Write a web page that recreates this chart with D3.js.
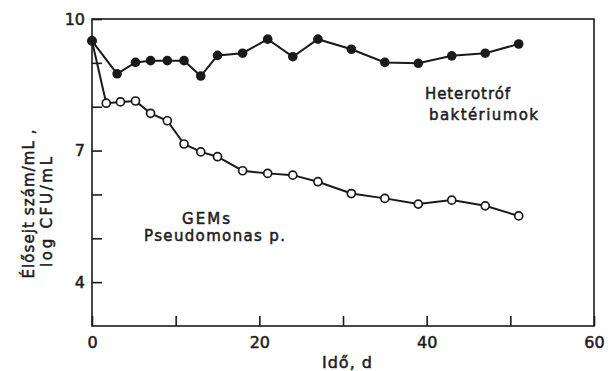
<!DOCTYPE html>
<html>
<head>
<meta charset="utf-8">
<script src="https://cdn.jsdelivr.net/npm/d3@7"></script>
<style>
  body { margin: 0; background: #fff; }
  text { font-family: "DejaVu Sans", sans-serif; fill: #1c1c1c; stroke: #1c1c1c; stroke-width: 0.5px; }
</style>
</head>
<body>
<svg id="chart" width="611" height="371"></svg>
<script>
// Heterotrophic bacteria (filled markers)
const heteroDays = [0, 3, 5.2, 7, 9, 11, 13, 15, 18, 21, 24, 27, 31, 35, 39, 43, 47, 51];
const heteroLog  = [9.50, 8.75, 9.01, 9.05, 9.05, 9.05, 8.70, 9.17, 9.22, 9.54, 9.14, 9.54, 9.31, 9.01, 8.99, 9.16, 9.22, 9.43];

// GEM Pseudomonas (open markers)
const gemDays = [0, 1.7, 3.4, 5.2, 7, 9, 11, 13, 15, 18, 21, 24, 27, 31, 35, 39, 43, 47, 51];
const gemLog  = [9.50, 8.08, 8.11, 8.13, 7.85, 7.68, 7.15, 6.97, 6.86, 6.54, 6.48, 6.44, 6.29, 6.02, 5.91, 5.78, 5.87, 5.74, 5.51];

const xTickValues = [0, 10, 20, 30, 40, 50, 60];
const xTickLabels = ["0", "", "20", "", "40", "", "60"];
const yTickValues = [4, 5, 6, 7, 8, 9, 10];
const yTickLabels = ["4", "", "", "7", "", "", "10"];

const heteroLabel = ["Heterotróf", "baktériumok"];
const gemLabel = ["GEMs", "Pseudomonas p."];
const yTitle = ["Élősejt szám/mL ,", "log CFU/mL"];
const xTitle = "Idő, d";

const ink = "#1a1a1a";
const svg = d3.select("#chart");

const x = d3.scaleLinear().domain([0, 60]).range([92, 594]);
const y = d3.scaleLinear().domain([3, 10]).range([326, 19]);

// axes with inward ticks
const xAxis = d3.axisBottom(x)
  .tickValues(xTickValues)
  .tickFormat((d, i) => xTickLabels[i])
  .tickSizeInner(-10).tickSizeOuter(0).tickPadding(11);
const yAxis = d3.axisLeft(y)
  .tickValues(yTickValues)
  .tickFormat((d, i) => yTickLabels[i])
  .tickSizeInner(-10).tickSizeOuter(0).tickPadding(7);

const gx = svg.append("g").attr("transform", `translate(0,${y(3)})`).call(xAxis);
const gy = svg.append("g").attr("transform", `translate(${x(0)},0)`).call(yAxis);
[gx, gy].forEach(g => {
  g.select(".domain").remove();
  g.selectAll(".tick line").attr("stroke", ink).attr("stroke-width", 1.6);
  g.selectAll(".tick text").attr("font-size", 16).attr("fill", ink)
    .style("font-family", '"DejaVu Sans", sans-serif');
});

// frame
svg.append("rect")
  .attr("x", x(0)).attr("y", y(10))
  .attr("width", x(60) - x(0)).attr("height", y(3) - y(10))
  .attr("fill", "none").attr("stroke", ink).attr("stroke-width", 1.6);

const line = d3.line().x(d => x(d[0])).y(d => y(d[1]));
const gemPts = gemDays.map((d, i) => [d, gemLog[i]]);
const heteroPts = heteroDays.map((d, i) => [d, heteroLog[i]]);

svg.append("path").datum(gemPts).attr("d", line)
  .attr("fill", "none").attr("stroke", ink).attr("stroke-width", 2);
svg.append("path").datum(heteroPts).attr("d", line)
  .attr("fill", "none").attr("stroke", ink).attr("stroke-width", 2);

svg.append("g").selectAll("circle").data(gemPts).join("circle")
  .attr("cx", d => x(d[0])).attr("cy", d => y(d[1])).attr("r", 4)
  .attr("fill", "#fff").attr("stroke", ink).attr("stroke-width", 1.7);
svg.append("g").selectAll("circle").data(heteroPts).join("circle")
  .attr("cx", d => x(d[0])).attr("cy", d => y(d[1])).attr("r", 4.8)
  .attr("fill", ink);

// text helper
function label(txt, px, py, size, len, anchor, rot) {
  const t = svg.append("text")
    .attr("transform", `translate(${px},${py})` + (rot ? ` rotate(${rot})` : ""))
    .attr("font-size", size)
    .attr("text-anchor", anchor || "start")
    .text(txt);
  if (len) t.attr("textLength", len).attr("lengthAdjust", "spacing");
  return t;
}

label(heteroLabel[0], 425, 99, 15, 85);
label(heteroLabel[1], 429, 120, 15, 109);
label(gemLabel[0], 206, 224, 15, 48, "middle");
label(gemLabel[1], 144, 241, 15, 141);

label(xTitle, 322, 368, 16, 50);
label(yTitle[0], 34, 204, 15, 149, "middle", -90);
label(yTitle[1], 52, 212, 15, 110, "middle", -90);
</script>
</body>
</html>
